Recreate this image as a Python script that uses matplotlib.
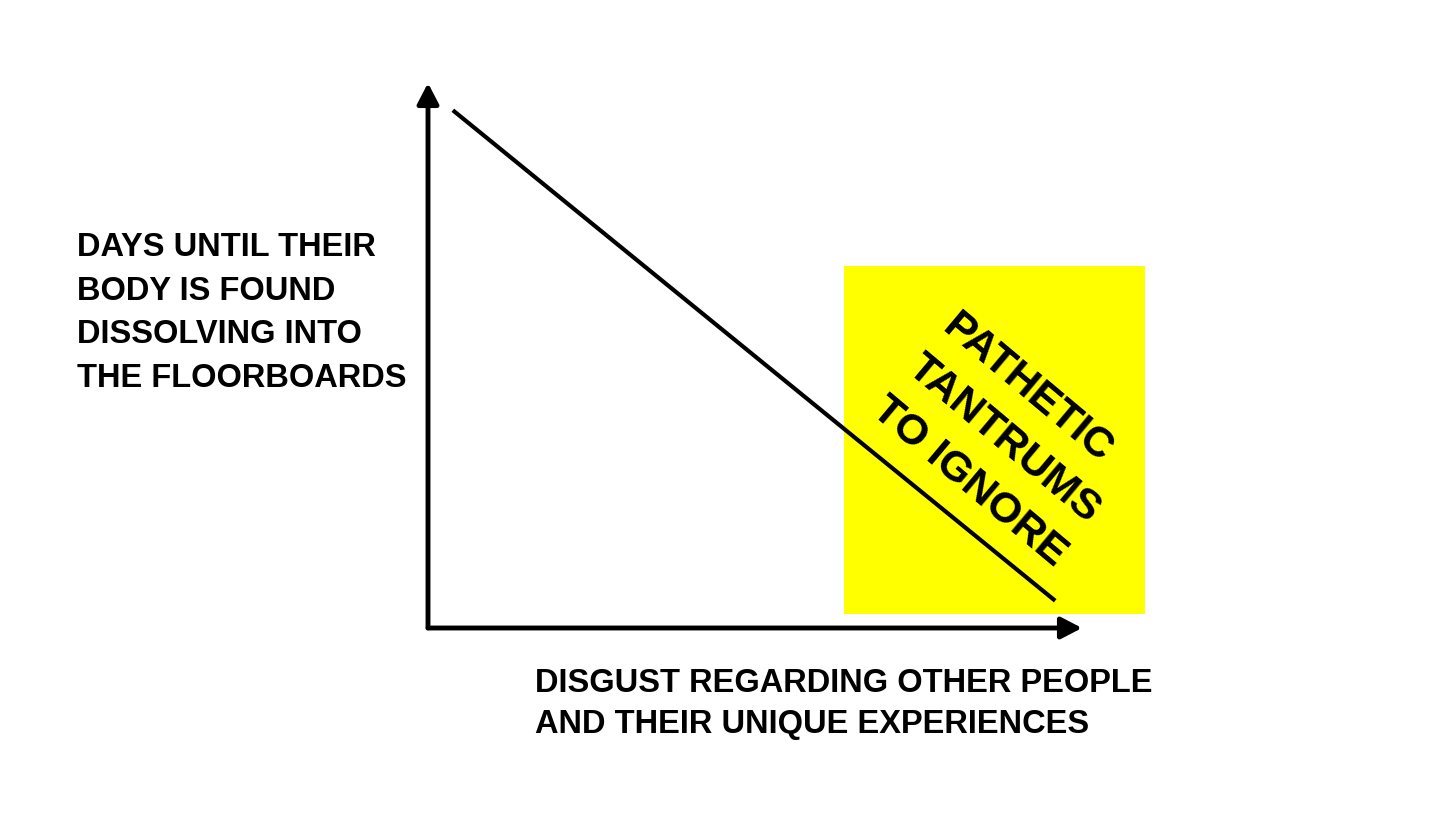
import matplotlib
matplotlib.use("Agg")
import matplotlib.pyplot as plt
from matplotlib.patches import Rectangle

# Data
line_x = [0.38, 9.59]
line_y = [9.50, 0.50]
zone_x = [6.36, 10.96]
zone_y = [0.26, 6.64]
y_label = "DAYS UNTIL THEIR\nBODY IS FOUND\nDISSOLVING INTO\nTHE FLOORBOARDS"
x_label = "DISGUST REGARDING OTHER PEOPLE\nAND THEIR UNIQUE EXPERIENCES"
zone_label = "PATHETIC\nTANTRUMS\nTO IGNORE"

W, H = 1456, 819
fig = plt.figure(figsize=(W / 100, H / 100), dpi=100)
fig.patch.set_facecolor("white")
ax = fig.add_axes([428 / W, (H - 628) / H, (1082 - 428) / W, (628 - 83) / H])
ax.set_xlim(0, 10)
ax.set_ylim(0, 10)
ax.axis("off")

ax.add_patch(Rectangle((zone_x[0], zone_y[0]), zone_x[1] - zone_x[0], zone_y[1] - zone_y[0],
                       facecolor="#ffff00", edgecolor="none", clip_on=False, zorder=1))
ax.plot(line_x, line_y, color="black", lw=3, solid_capstyle="butt", zorder=3, clip_on=False)

arrow = dict(arrowstyle="-|>,head_length=1.25,head_width=0.65", lw=3.5, color="black",
             shrinkA=0, shrinkB=0, mutation_scale=10)
ax.annotate("", xy=(1, 0), xytext=(0, 0), xycoords="axes fraction", arrowprops=arrow, zorder=4)
ax.annotate("", xy=(0, 1), xytext=(0, 0), xycoords="axes fraction", arrowprops=arrow, zorder=4)

font = ["Liberation Sans", "DejaVu Sans"]
fig.text(77 / W, 1 - 313 / H, y_label, ha="left", va="center", fontsize=23.5,
         fontweight="bold", family=font, linespacing=1.53)
fig.text(535 / W, 1 - 704 / H, x_label, ha="left", va="center", fontsize=23.5,
         fontweight="bold", family=font, linespacing=1.38)
ax.text(8.81, 3.445, zone_label, ha="center", va="center", rotation=-40, rotation_mode="anchor",
        fontsize=31, fontweight="bold", family=font, linespacing=1.45, zorder=5, multialignment="left")

fig.savefig("out.png", dpi=100, facecolor="white")
